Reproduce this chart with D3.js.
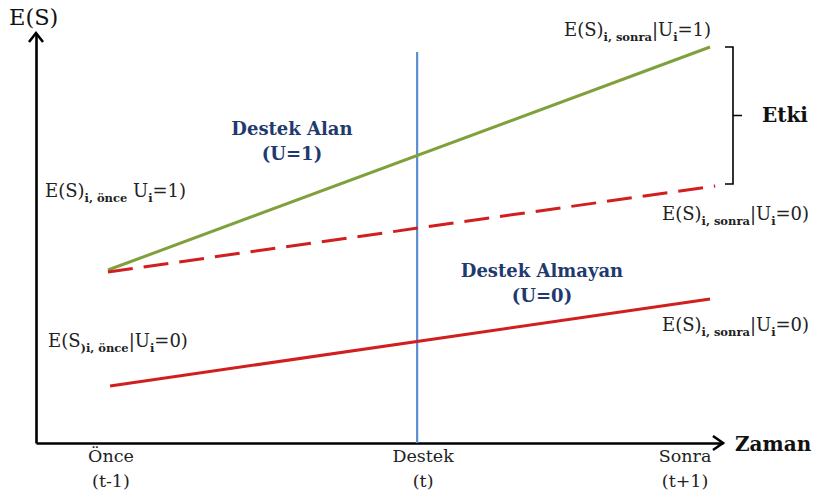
<!DOCTYPE html>
<html><head><meta charset="utf-8">
<script src="https://cdn.jsdelivr.net/npm/d3@7"></script>
<style>
html,body{margin:0;padding:0;background:#fff;}
text{font-family:"DejaVu Serif",serif;}
</style></head>
<body>
<svg id="chart" width="816" height="495"></svg>
<script>
// ---- data ----
const timeLabels = ["Önce", "Destek", "Sonra"];
const timeSubLabels = ["(t-1)", "(t)", "(t+1)"];
const timeLabelPos = [-0.99, 0.047, 0.917];   // where tick labels sit on time axis
const supportTime = 0.027;                     // time of support (vertical line)
const supportTop = 97.75;
const treatedTimes = [-1, 1];
const treatedValues = [43.25, 99];
const counterTimes = [-1, 1.017];
const counterValues = [42.75, 64.25];
const controlTimes = [-0.993, 1];
const controlValues = [14.25, 36];
const effectRange = [64.75, 99];               // bracket extent (Etki)

const svg = d3.select("#chart");
const x = d3.scaleLinear().domain([-1.239, 1.043]).range([36, 723]);
const y = d3.scaleLinear().domain([0, 102.5]).range([443, 33]);

const line = d3.line().x(d => x(d[0])).y(d => y(d[1]));
const zip = (a, b) => a.map((v, i) => [v, b[i]]);

// axes
const gx = svg.append("g").attr("transform", `translate(0,${y(0)})`)
  .call(d3.axisBottom(x).tickValues([]).tickSizeOuter(0));
gx.select(".domain").attr("stroke", "#000").attr("stroke-width", 2.6);
const gy = svg.append("g").attr("transform", `translate(${x(-1.239)},0)`)
  .call(d3.axisLeft(y).tickValues([]).tickSizeOuter(0));
gy.select(".domain").attr("stroke", "#000").attr("stroke-width", 2.6);

// arrow heads
svg.append("path").attr("fill", "none").attr("stroke", "#000").attr("stroke-width", 2.6)
  .attr("d", `M${x(-1.239) - 7},${y(102.5) + 9}L${x(-1.239)},${y(102.5)}L${x(-1.239) + 7},${y(102.5) + 9}`);
svg.append("path").attr("fill", "none").attr("stroke", "#000").attr("stroke-width", 2.6)
  .attr("d", `M${x(1.043) - 10},${y(0) - 7}L${x(1.043)},${y(0)}L${x(1.043) - 10},${y(0) + 7}`);

// support line
svg.append("path").attr("fill", "none").attr("stroke", "#5b8fd0").attr("stroke-width", 2.2)
  .attr("d", line([[supportTime, 0], [supportTime, supportTop]]));

// series
svg.append("path").attr("fill", "none").attr("stroke", "#80a03c").attr("stroke-width", 3)
  .attr("d", line(zip(treatedTimes, treatedValues)));
svg.append("path").attr("fill", "none").attr("stroke", "#d11f1f").attr("stroke-width", 3)
  .attr("stroke-dasharray", "25,11")
  .attr("d", line(zip(counterTimes, counterValues)));
svg.append("path").attr("fill", "none").attr("stroke", "#d11f1f").attr("stroke-width", 3)
  .attr("d", line(zip(controlTimes, controlValues)));

// bracket
const bx = 733, y1 = y(effectRange[1]), y0 = y(effectRange[0]), ym = (y0 + y1) / 2;
svg.append("path").attr("fill", "none").attr("stroke", "#000").attr("stroke-width", 1.6)
  .attr("d", `M${bx - 8},${y1}H${bx}V${y0}H${bx - 8}M${bx},${ym}H${bx + 9}`);
svg.append("text").attr("x", 762).attr("y", 122).attr("font-size", 20).attr("font-weight", "bold")
  .attr("fill", "#111").text("Etki");

// tick labels
timeLabels.forEach((t, i) => {
  const tx = x(timeLabelPos[i]);
  svg.append("text").attr("x", tx).attr("y", 462).attr("text-anchor", "middle")
    .attr("font-size", 17.5).attr("fill", "#222").text(t);
  svg.append("text").attr("x", tx).attr("y", 487).attr("text-anchor", "middle")
    .attr("font-size", 17.5).attr("fill", "#222").text(timeSubLabels[i]);
});

// axis titles
svg.append("text").attr("x", 9).attr("y", 25).attr("font-size", 22.5).attr("fill", "#111").text("E(S)");
svg.append("text").attr("x", 735).attr("y", 451).attr("font-size", 20).attr("font-weight", "bold")
  .attr("fill", "#111").text("Zaman");

// group labels
function group(cx, yb, lines) {
  lines.forEach((l, i) => svg.append("text").attr("x", cx).attr("y", yb + i * 25)
    .attr("text-anchor", "middle").attr("font-size", 18).attr("font-weight", "bold")
    .attr("fill", "#1f3a6e").text(l));
}
group(292, 135, ["Destek Alan", "(U=1)"]);
group(542, 277, ["Destek Almayan", "(U=0)"]);

// math labels
function mlabel(x0, yb, parts) {
  const t = svg.append("text").attr("x", x0).attr("y", yb).attr("font-size", 18).attr("fill", "#222");
  let down = false;
  parts.forEach(p => {
    const s = t.append("tspan").text(p.t);
    if (p.sub && !down) { s.attr("dy", 5).attr("font-size", 11.5).attr("font-weight", "bold"); down = true; }
    else if (p.sub) { s.attr("font-size", 11.5).attr("font-weight", "bold"); }
    else if (down) { s.attr("dy", -5); down = false; }
  });
}
mlabel(564, 36, [{t: "E(S)"}, {t: "i, sonra", sub: true}, {t: "|U"}, {t: "i", sub: true}, {t: "=1)"}]);
mlabel(662, 220, [{t: "E(S)"}, {t: "i, sonra", sub: true}, {t: "|U"}, {t: "i", sub: true}, {t: "=0)"}]);
mlabel(662, 331, [{t: "E(S)"}, {t: "i, sonra", sub: true}, {t: "|U"}, {t: "i", sub: true}, {t: "=0)"}]);
mlabel(45, 197, [{t: "E(S)"}, {t: "i, önce", sub: true}, {t: " U"}, {t: "i", sub: true}, {t: "=1)"}]);
mlabel(48, 347, [{t: "E(S"}, {t: ")", sub: true}, {t: "i, önce", sub: true}, {t: "|U"}, {t: "i", sub: true}, {t: "=0)"}]);
</script>
</body></html>
